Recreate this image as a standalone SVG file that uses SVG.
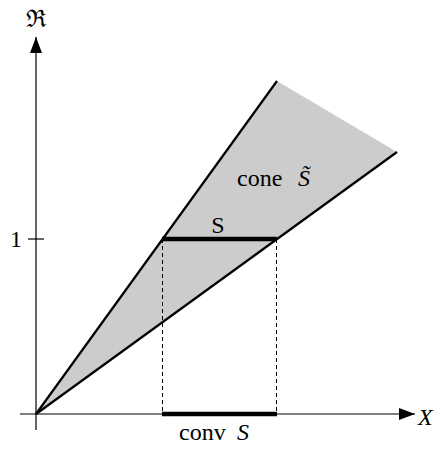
<svg xmlns="http://www.w3.org/2000/svg" width="440" height="449" viewBox="0 0 440 449">
<defs>
<marker id="arr" markerWidth="16" markerHeight="12" refX="16" refY="6" orient="auto" markerUnits="userSpaceOnUse">
<path d="M0,0 L16,6 L0,12 Z" fill="#000"/>
</marker>
<style>
.t{font-family:"Liberation Serif","DejaVu Serif",serif;font-size:24px;fill:#000}
.i{font-style:italic}
.ax{stroke:#000;stroke-width:1.2;fill:none}
.edge{stroke:#000;stroke-width:2.2;fill:none}
.thick{stroke:#000;stroke-width:4.5;fill:none}
.dash{stroke:#000;stroke-width:1;stroke-dasharray:4,3;fill:none}
</style>
</defs>
<rect width="440" height="449" fill="#fff"/>
<g id="cone">
<polygon points="36,414 277,81 397,152" fill="#cccccc"/>
</g>
<g id="connectors">
<line class="ax" x1="36" y1="430" x2="36" y2="37" marker-end="url(#arr)"/>
<line class="ax" x1="20" y1="414" x2="415" y2="414" marker-end="url(#arr)"/>
<line class="ax" x1="28" y1="239" x2="44" y2="239"/>
<line class="edge" x1="36" y1="414" x2="277" y2="81"/>
<line class="edge" x1="36" y1="414" x2="397" y2="152"/>
<line class="dash" x1="162.5" y1="239" x2="162.5" y2="414"/>
<line class="dash" x1="276.5" y1="239" x2="276.5" y2="414"/>
</g>
<g id="S">
<line class="thick" x1="162" y1="239" x2="277" y2="239"/>
<text class="t" x="218" y="233" text-anchor="middle">S</text>
</g>
<g id="convS">
<line class="thick" x1="162" y1="414" x2="277" y2="414"/>
<text class="t" x="179" y="440">conv<tspan class="i" x="237">S</tspan></text>
</g>
<g id="coneS">
<text class="t" x="237" y="186">cone<tspan class="i" x="298">S̃</tspan></text>
</g>
<g id="labels">
<text class="t" x="36" y="27" text-anchor="middle">ℜ</text>
<text class="t" x="16" y="247" text-anchor="middle">1</text>
<text class="t i" x="418" y="425">X</text>
</g>
</svg>
